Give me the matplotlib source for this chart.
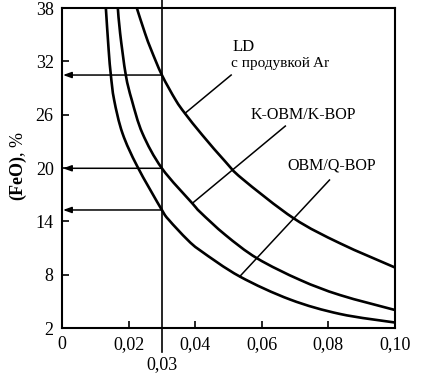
import matplotlib
matplotlib.use("Agg")
import matplotlib.pyplot as plt
from matplotlib.path import Path
from matplotlib.patches import PathPatch

plt.rcParams['font.family'] = ['Liberation Serif', 'DejaVu Serif']
plt.rcParams['mathtext.fontset'] = 'custom'
plt.rcParams['mathtext.rm'] = 'Liberation Serif'
plt.rcParams['mathtext.bf'] = 'Liberation Serif:bold'

# Curve data (x = [C], %, y = (FeO), %)
ld_x = [0.02246, 0.02494, 0.02680, 0.0300, 0.03413, 0.03692, 0.04213, 0.0491, 0.0541, 0.0696, 0.0835, 0.1000]
ld_y = [38.0, 35.15, 33.28, 30.46, 27.65, 26.15, 23.71, 20.70, 18.80, 14.34, 11.53, 8.81]

kobm_x = [0.01677, 0.01746, 0.01916, 0.02096, 0.02416, 0.0300, 0.03913, 0.04162, 0.0491, 0.0586, 0.07156, 0.0835, 0.1000]
kobm_y = [38.0, 35.15, 30.46, 27.65, 23.90, 19.97, 16.03, 15.00, 12.46, 9.84, 7.40, 5.71, 4.03]

obm_x = [0.01317, 0.01401, 0.01467, 0.01566, 0.01817, 0.02266, 0.0300, 0.03213, 0.03763, 0.04162, 0.05338, 0.06856, 0.08353, 0.1000]
obm_y = [38.0, 33.28, 30.46, 27.65, 23.90, 20.15, 15.28, 14.15, 11.95, 10.70, 7.80, 5.20, 3.58, 2.62]

x_ref = 0.03
arrow_y = [30.46, 19.97, 15.28]

x_ticks = [0, 0.02, 0.04, 0.06, 0.08, 0.10]
x_ticklabels = ["0", "0,02", "0,04", "0,06", "0,08", "0,10"]
y_ticks = [2, 8, 14, 20, 26, 32, 38]

# labels & leader lines
labels = ["LD", "с продувкой Ar", "K-OBM/K-BOP", "OBM/Q-BOP"]
ld_leader = ([0.03692, 0.0508], [26.15, 30.46])
kobm_leader = ([0.03913, 0.06707], [16.03, 24.72])
obm_leader = ([0.05338, 0.08033], [7.80, 18.65])


def smooth_path(xs, ys):
    """Smooth (Catmull-Rom style) Bezier path passing through the data points."""
    pts = list(zip(xs, ys))
    n = len(pts)
    verts = [pts[0]]
    codes = [Path.MOVETO]
    for i in range(n - 1):
        p0 = pts[i - 1] if i > 0 else pts[i]
        p1 = pts[i]
        p2 = pts[i + 1]
        p3 = pts[i + 2] if i + 2 < n else pts[i + 1]
        c1 = (p1[0] + (p2[0] - p0[0]) / 6, p1[1] + (p2[1] - p0[1]) / 6)
        c2 = (p2[0] - (p3[0] - p1[0]) / 6, p2[1] - (p3[1] - p1[1]) / 6)
        verts += [c1, c2, p2]
        codes += [Path.CURVE4] * 3
    return Path(verts, codes)


fig = plt.figure(figsize=(4.27, 3.81), dpi=100)
ax = fig.add_axes([0.1452, 0.139, 0.7798, 0.840])

for xs, ys in [(ld_x, ld_y), (kobm_x, kobm_y), (obm_x, obm_y)]:
    ax.add_patch(PathPatch(smooth_path(xs, ys), fill=False, edgecolor='black',
                           lw=1.9, capstyle='butt', joinstyle='round'))

for lx, ly in [ld_leader, kobm_leader, obm_leader]:
    ax.plot(lx, ly, color='black', lw=1.1)

# vertical reference line extending beyond the axes
ax.plot([x_ref, x_ref], [-0.075, 1.025], transform=ax.get_xaxis_transform(),
        color='black', lw=1.2, clip_on=False)
ax.text(x_ref, -0.115, "0,03", transform=ax.get_xaxis_transform(),
        ha='center', va='center', fontsize=13)

for yv in arrow_y:
    ax.annotate("", xy=(0.0003, yv), xytext=(x_ref, yv),
                arrowprops=dict(arrowstyle='-|>,head_length=0.5,head_width=0.18',
                                color='black', lw=1.1, shrinkA=0, shrinkB=0))

ax.text(0.0511, 33.6, labels[0], fontsize=12, ha='left', va='center')
ax.text(0.0509, 31.75, labels[1], fontsize=11, ha='left', va='center')
ax.text(0.0725, 26.0, labels[2], fontsize=11.5, ha='center', va='center')
ax.text(0.0810, 20.3, labels[3], fontsize=11.5, ha='center', va='center')

ax.set_xlim(0, 0.10)
ax.set_ylim(2, 38)
ax.set_xticks(x_ticks)
ax.set_xticklabels(x_ticklabels)
ax.set_yticks(y_ticks)
ax.tick_params(direction='in', length=5, width=1.2, labelsize=13, pad=6)
for s in ax.spines.values():
    s.set_linewidth(1.5)

fig.text(18 / 427, 1 - 166 / 381, r"$\mathbf{(FeO)}$, %", fontsize=13,
         rotation=90, ha='center', va='center')

fig.savefig("out.png", dpi=100)
